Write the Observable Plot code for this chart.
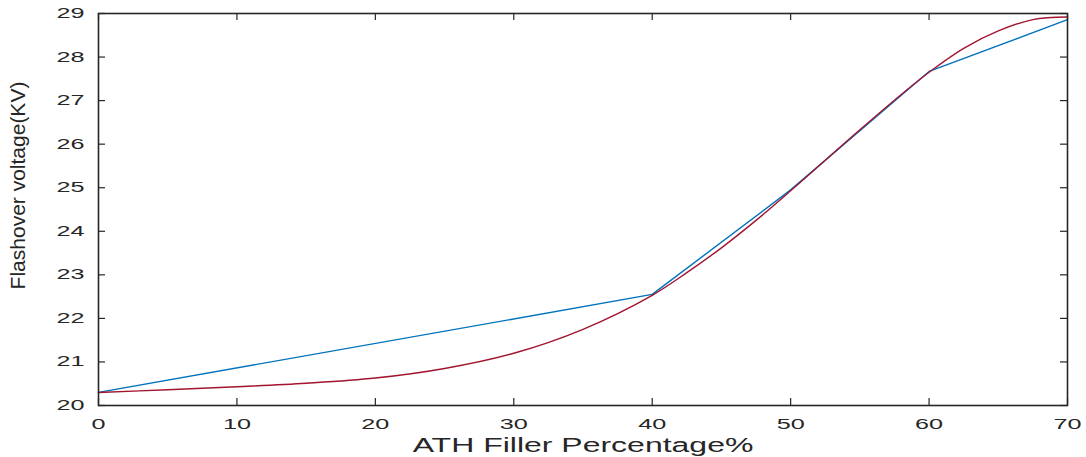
<!DOCTYPE html>
<html>
<head>
<meta charset="utf-8">
<script src="https://cdn.jsdelivr.net/npm/d3@7"></script>
<script src="https://cdn.jsdelivr.net/npm/@observablehq/plot@0.6"></script>
<style>
  html, body { margin: 0; padding: 0; background: #fff; }
  #chart { width: 1086px; height: 457px; }
</style>
</head>
<body>
<div id="chart"></div>
<script>
// Measured data (blue polyline)
const measuredX = [0, 40, 50, 60, 70];
const measuredY = [20.3, 22.55, 24.95, 27.67, 28.86];

// Fitted curve (red)
const fitX = [0, 5, 10, 15, 20, 25, 30, 35, 40, 42.5, 45, 47.5, 50, 52.5, 55, 57.5, 60, 62.5, 65, 67.5, 70];
const fitY = [20.3, 20.36, 20.43, 20.51, 20.63, 20.85, 21.2, 21.75, 22.53, 23.05, 23.62, 24.25, 24.93, 25.63, 26.33, 27.01, 27.65, 28.2, 28.6, 28.86, 28.92];

const xTicks = [0, 10, 20, 30, 40, 50, 60, 70];
const yTicks = [20, 21, 22, 23, 24, 25, 26, 27, 28, 29];

const xLabel = "ATH Filler Percentage%";
const yLabel = "Flashover voltage(KV)";

const W = 1086, H = 457;
const mL = 98, mR = 19, mT = 13, mB = 52;
const innerW = W - mL - mR, innerH = H - mT - mB;
const tickLen = 7;

const measured = measuredX.map((x, i) => ({x, y: measuredY[i]}));
const fit = fitX.map((x, i) => ({x, y: fitY[i]}));

const axisColor = "#262626";

const chart = Plot.plot({
  width: W,
  height: H,
  marginLeft: mL,
  marginRight: mR,
  marginTop: mT,
  marginBottom: mB,
  style: {
    fontFamily: "'Liberation Sans', Arial, sans-serif",
    fontSize: "14px",
    color: axisColor,
    background: "white"
  },
  x: {domain: [0, 70]},
  y: {domain: [20, 29]},
  marks: [
    Plot.axisX(xTicks, {tickSize: 0, tickPadding: 14, label: null, fontSize: 14, fill: axisColor}),
    Plot.axisY(yTicks, {tickSize: 0, tickPadding: 14, label: null, fontSize: 14, fill: axisColor}),
    // inward ticks on all four sides
    Plot.tickX(xTicks, {x: d => d, insetTop: innerH - tickLen, stroke: axisColor, strokeWidth: 1.2}),
    Plot.tickX(xTicks, {x: d => d, insetBottom: innerH - tickLen, stroke: axisColor, strokeWidth: 1.2}),
    Plot.tickY(yTicks, {y: d => d, insetRight: innerW - tickLen, stroke: axisColor, strokeWidth: 1.2}),
    Plot.tickY(yTicks, {y: d => d, insetLeft: innerW - tickLen, stroke: axisColor, strokeWidth: 1.2}),
    Plot.line(measured, {x: "x", y: "y", stroke: "#0072BD", strokeWidth: 1.4}),
    Plot.line(fit, {x: "x", y: "y", curve: "catmull-rom", stroke: "#A2142F", strokeWidth: 1.4}),
    Plot.frame({stroke: axisColor, strokeWidth: 1.6}),
    Plot.text([xLabel], {frameAnchor: "bottom", textAnchor: "middle", dy: 46, fontSize: 20, fill: axisColor}),
    Plot.text([yLabel], {frameAnchor: "left", textAnchor: "middle", rotate: -90, dx: -80, dy: -24, fontSize: 21, fill: axisColor})
  ]
});

document.getElementById("chart").appendChild(chart);

// Horizontal stretch of the horizontal texts, as in the reference image
function stretchNode(node, s) {
  const t = node.getAttribute("transform") || "";
  const x = +node.getAttribute("x") || 0;
  const y = +node.getAttribute("y") || 0;
  node.setAttribute("transform", `${t} translate(${x},${y}) scale(${s},1) translate(${-x},${-y})`);
}
d3.select(chart).selectAll('g[aria-label="x-axis tick label"] text').each(function() { stretchNode(this, 1.8); });
d3.select(chart).selectAll('g[aria-label="y-axis tick label"] text').each(function() { stretchNode(this, 1.8); });
d3.select(chart).selectAll('g[aria-label="text"] text').each(function() {
  if (this.textContent === xLabel) stretchNode(this, 1.6);
});
</script>
</body>
</html>
